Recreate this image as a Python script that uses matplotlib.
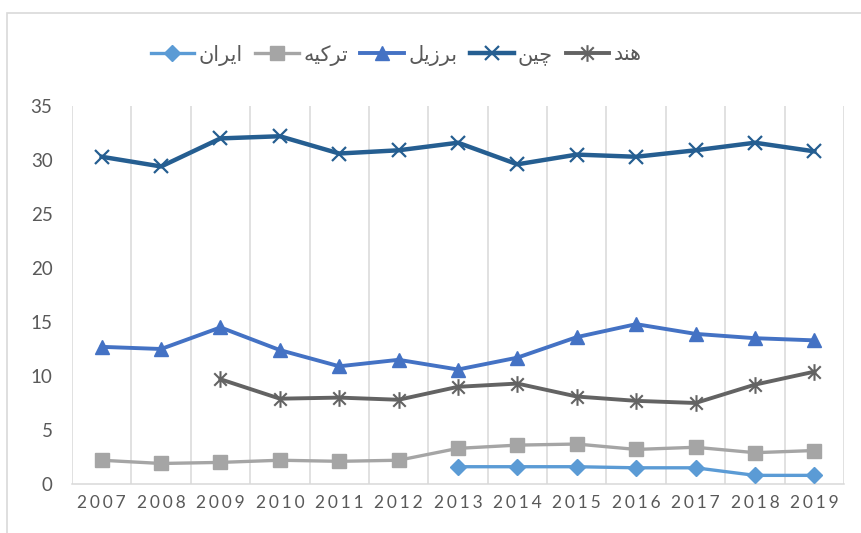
import matplotlib
matplotlib.use("Agg")
import matplotlib.pyplot as plt
from matplotlib.path import Path
from matplotlib.patches import Rectangle
import numpy as np

years = [str(y) for y in range(2007, 2020)]
iran = [None]*6 + [1.6, 1.6, 1.6, 1.5, 1.5, 0.8, 0.8]
turkey = [2.2, 1.9, 2.0, 2.2, 2.1, 2.2, 3.3, 3.6, 3.7, 3.2, 3.4, 2.9, 3.1]
brazil = [12.7, 12.5, 14.5, 12.4, 10.9, 11.5, 10.6, 11.7, 13.6, 14.8, 13.9, 13.5, 13.3]
china = [30.3, 29.4, 32.0, 32.2, 30.6, 30.9, 31.6, 29.6, 30.5, 30.3, 30.9, 31.6, 30.8]
india = [None, None, 9.7, 7.9, 8.0, 7.8, 9.0, 9.3, 8.1, 7.7, 7.5, 9.2, 10.4]

# Persian labels, pre-shaped presentation forms in visual order
lbl_iran = "\uFEE5\uFE8D\uFEAE\uFEF3\uFE8D"      # ایران
lbl_turkey = "\uFEEA\uFEF4\uFEDB\uFEAE\uFE97"    # ترکیه
lbl_brazil = "\uFEDE\uFEF3\uFEAF\uFEAE\uFE91"    # برزیل
lbl_china = "\uFEE6\uFEF4\uFB7C"                 # چین
lbl_india = "\uFEAA\uFEE8\uFEEB"                 # هند

def arr(v):
    return np.array([np.nan if x is None else x for x in v], dtype=float)

plt.rcParams['font.family'] = ['Lato', 'DejaVu Sans']

fig = plt.figure(figsize=(8.61, 5.33), dpi=100)
fig.patches.append(Rectangle((7/861, -0.1), 1.2, 1 - 13/533 + 0.1, transform=fig.transFigure,
                             fill=False, edgecolor='#d9d9d9', linewidth=1.2))
ax = fig.add_axes([72/861, 1-484/533, (844-72)/861, (484-106)/533])

x = np.arange(len(years))

star = Path([(0, -1), (0, 1), (-0.75, -0.75), (0.75, 0.75), (-0.75, 0.75), (0.75, -0.75)],
            [Path.MOVETO, Path.LINETO, Path.MOVETO, Path.LINETO, Path.MOVETO, Path.LINETO])

ax.plot(x, arr(iran), color='#5B9BD5', lw=2.4, marker='D', ms=8, mec='#5B9BD5', label=lbl_iran, zorder=5)
ax.plot(x, arr(turkey), color='#A5A5A5', lw=2.4, marker='s', ms=9.5, mec='#A5A5A5', label=lbl_turkey, zorder=4)
ax.plot(x, arr(brazil), color='#4472C4', lw=2.8, marker='^', ms=10, mec='#4472C4', label=lbl_brazil, zorder=4)
ax.plot(x, arr(china), color='#255E91', lw=3.2, marker='x', ms=10, mew=1.6, mec='#255E91', label=lbl_china, zorder=4)
ax.plot(x, arr(india), color='#636363', lw=2.8, marker=star, ms=12, mew=1.5, mec='#636363', mfc='none', label=lbl_india, zorder=4)

ax.set_xlim(-0.5, len(years) - 0.5)
ax.set_ylim(0, 35)
ax.set_yticks(range(0, 36, 5))
ax.set_xticks(x)
ax.set_xticklabels(["\u2006".join(y) for y in years], fontsize=12.5)
for b in np.arange(-0.5, len(years) + 0.5, 1):
    ax.axvline(b, color='#d9d9d9', lw=1.1, zorder=1)

for s in ['top', 'right', 'left']:
    ax.spines[s].set_visible(False)
ax.spines['bottom'].set_color('#d9d9d9')
ax.spines['bottom'].set_linewidth(1.1)
ax.tick_params(axis='both', length=0, colors='#595959')
ax.tick_params(axis='y', labelsize=13.5, pad=14)
ax.tick_params(axis='x', pad=8)

leg = fig.legend(loc='center', bbox_to_anchor=(396/861, 1 - 55/533), ncol=5, frameon=False,
                 fontsize=15, handlelength=2.1, columnspacing=0.6, handletextpad=0.2,
                 labelcolor='#595959')

fig.savefig('out.png', dpi=100, facecolor='white')
